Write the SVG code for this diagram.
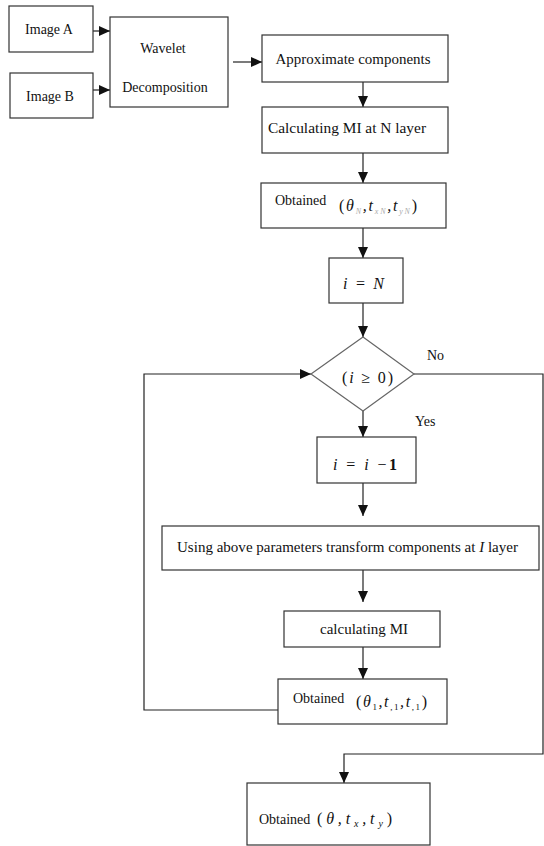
<svg xmlns="http://www.w3.org/2000/svg" width="544" height="846" viewBox="0 0 544 846">
<style>
.box{fill:#fff;stroke:#333;stroke-width:1.2}
.dia{fill:#fff;stroke:#666;stroke-width:1.2}
.ln{fill:none;stroke:#222;stroke-width:1.2}
text{font-family:"Liberation Serif","DejaVu Serif","Times New Roman",serif;fill:#111}
.t{font-size:14px}
.m{font-size:16px;font-style:italic}
.s{font-size:8px;fill:#aaa;font-style:italic}
.u{font-style:normal}
</style>
<defs>
<marker id="ah" markerUnits="userSpaceOnUse" markerWidth="11" markerHeight="10" refX="11" refY="5" orient="auto">
<path d="M0,0 L11,5 L0,10 z" fill="#111"/>
</marker>
</defs>
<rect width="544" height="846" fill="#fff"/>
<g id="connectors">
<line class="ln" x1="93" y1="31" x2="110" y2="31" marker-end="url(#ah)"/>
<line class="ln" x1="93" y1="90" x2="110" y2="90" marker-end="url(#ah)"/>
<line class="ln" x1="233" y1="62" x2="262" y2="62" marker-end="url(#ah)"/>
<line class="ln" x1="363" y1="82" x2="363" y2="107" marker-end="url(#ah)"/>
<line class="ln" x1="363" y1="153" x2="363" y2="183" marker-end="url(#ah)"/>
<line class="ln" x1="363" y1="228" x2="363" y2="258" marker-end="url(#ah)"/>
<line class="ln" x1="363" y1="303" x2="363" y2="337" marker-end="url(#ah)"/>
<line class="ln" x1="363" y1="411" x2="363" y2="437" marker-end="url(#ah)"/>
<line class="ln" x1="363" y1="483" x2="363" y2="516" marker-end="url(#ah)"/>
<line class="ln" x1="363" y1="570" x2="363" y2="602" marker-end="url(#ah)"/>
<line class="ln" x1="363" y1="647" x2="363" y2="679" marker-end="url(#ah)"/>
<polyline class="ln" points="278,710 144,710 144,374 311,374" marker-end="url(#ah)"/>
<polyline class="ln" points="414,374 543,374 543,754 344,754 344,783" marker-end="url(#ah)"/>
<text class="t" x="427" y="360" font-size="13">No</text>
<text class="t" x="415" y="426" font-size="13">Yes</text>
</g>
<g id="imageA">
<rect class="box" x="9" y="6" width="84" height="46"/>
<text class="t" x="49" y="34" text-anchor="middle">Image A</text>
</g>
<g id="imageB">
<rect class="box" x="10" y="73" width="83" height="45"/>
<text class="t" x="50" y="101" text-anchor="middle">Image B</text>
</g>
<g id="wavelet">
<rect class="box" x="110" y="17" width="118" height="90"/>
<text class="t" x="163" y="53" text-anchor="middle">Wavelet</text>
<text class="t" x="165" y="92" text-anchor="middle">Decomposition</text>
</g>
<g id="approx">
<rect class="box" x="262" y="35" width="186" height="47"/>
<text class="t" x="353" y="64" text-anchor="middle" textLength="155" lengthAdjust="spacingAndGlyphs">Approximate components</text>
</g>
<g id="calcN">
<rect class="box" x="262" y="107" width="186" height="46"/>
<text class="t" x="268" y="133" textLength="158" lengthAdjust="spacingAndGlyphs">Calculating  MI at N layer</text>
</g>
<g id="obtainedN">
<rect class="box" x="261" y="183" width="185" height="45"/>
<text class="t" x="275" y="205">Obtained</text>
<text class="m" x="339" y="211" textLength="78" lengthAdjust="spacing"><tspan class="u">(</tspan>θ<tspan class="s" dy="3">N</tspan><tspan dy="-3">,</tspan><tspan>t</tspan><tspan class="s" dy="3">xN</tspan><tspan dy="-3">,</tspan><tspan>t</tspan><tspan class="s" dy="3">yN</tspan><tspan class="u" dy="-3">)</tspan></text>
</g>
<g id="iN">
<rect class="box" x="329" y="258" width="74" height="45"/>
<text class="m" x="343" y="289" textLength="41" lengthAdjust="spacing">i <tspan class="u">=</tspan> N</text>
</g>
<g id="decision">
<polygon class="dia" points="363,337 414,374 363,411 311,374"/>
<text class="m" x="342" y="383" font-size="17" textLength="51" lengthAdjust="spacing"><tspan class="u">(</tspan>i <tspan class="u">≥ 0)</tspan></text>
</g>
<g id="dec">
<rect class="box" x="317" y="437" width="99" height="46"/>
<text class="m" x="333" y="470" font-size="20" textLength="64" lengthAdjust="spacing">i <tspan class="u">=</tspan> i <tspan class="u">−</tspan><tspan class="u" font-weight="bold">1</tspan></text>
</g>
<g id="transform">
<rect class="box" x="162" y="526" width="377" height="44"/>
<text class="t" x="177" y="552" textLength="341" lengthAdjust="spacingAndGlyphs">Using above parameters transform components at <tspan font-style="italic">I</tspan> layer</text>
</g>
<g id="calcMI">
<rect class="box" x="284" y="611" width="156" height="36"/>
<text class="t" x="320" y="634" textLength="88" lengthAdjust="spacingAndGlyphs">calculating MI</text>
</g>
<g id="obtainedI">
<rect class="box" x="278" y="679" width="169" height="45"/>
<text class="t" x="293" y="703">Obtained</text>
<text class="m" x="356" y="707" textLength="71" lengthAdjust="spacing"><tspan class="u">(</tspan>θ<tspan font-size="9" class="u" dy="3">1</tspan><tspan dy="-3">,</tspan><tspan>t</tspan><tspan font-size="9" class="u" dy="3">,1</tspan><tspan dy="-3">,</tspan><tspan>t</tspan><tspan font-size="9" class="u" dy="3">,1</tspan><tspan class="u" dy="-3">)</tspan></text>
</g>
<g id="final">
<rect class="box" x="247" y="783" width="183" height="62"/>
<text class="t" x="259" y="824">Obtained</text>
<text class="m" x="317" y="824" font-size="17" textLength="75" lengthAdjust="spacing"><tspan class="u">(</tspan>θ,t<tspan font-size="10" dy="3">x</tspan><tspan dy="-3">,</tspan>t<tspan font-size="10" dy="3">y</tspan><tspan class="u" dy="-3">)</tspan></text>
</g>
</svg>
